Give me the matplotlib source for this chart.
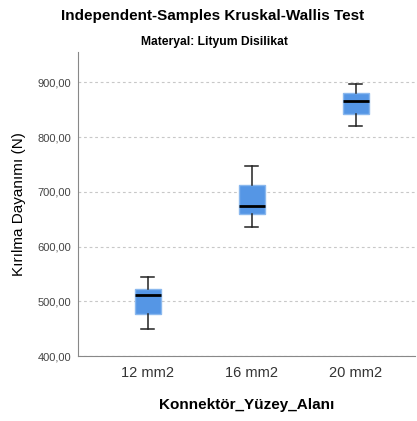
import matplotlib.pyplot as plt

plt.rcParams['font.family'] = ['Liberation Sans', 'DejaVu Sans']

groups = ['12 mm2', '16 mm2', '20 mm2']
whislo = [449, 636, 821]
q1 = [477, 660, 842]
med = [512, 675, 866]
q3 = [523, 712, 880]
whishi = [544, 748, 897]
yticks = [400, 500, 600, 700, 800, 900]

stats = []
for i in range(len(groups)):
    stats.append({'label': groups[i], 'whislo': whislo[i], 'q1': q1[i], 'med': med[i],
                  'q3': q3[i], 'whishi': whishi[i], 'fliers': []})

fig = plt.figure(figsize=(4.17, 4.21), dpi=100)
ax = fig.add_axes([0.187, 0.154, 0.808, 0.722])

ax.bxp(stats, positions=[1, 2, 3], widths=0.25, patch_artist=True, showfliers=False,
       boxprops=dict(facecolor='#5596e5', edgecolor='#8ab8ee', linewidth=1),
       medianprops=dict(color='black', linewidth=2),
       whiskerprops=dict(color='#222222', linewidth=1.1),
       capprops=dict(color='#222222', linewidth=1.1), capwidths=0.125)

ax.set_xlim(0.327, 3.567)
ax.set_ylim(400, 955)
ax.set_yticks(yticks)
ax.set_yticklabels(['%d,00' % v for v in yticks], fontsize=8, color='#444444')
ax.set_xticks([1, 2, 3])
ax.set_xticklabels(groups, fontsize=10.5, color='#333333')
ax.tick_params(axis='x', length=0, pad=7)
ax.tick_params(axis='y', length=0, pad=5)
ax.yaxis.grid(True, linestyle=(0, (2.5, 2.5)), color='#c8c8c8', linewidth=0.8)
ax.set_axisbelow(True)
for s in ['top', 'right']:
    ax.spines[s].set_visible(False)
for s in ['left', 'bottom']:
    ax.spines[s].set_color('#888888')

ax.set_ylabel('Kırılma Dayanımı (N)', fontsize=11, labelpad=8)
ax.set_xlabel('Konnektör_Yüzey_Alanı', fontsize=11, fontweight='bold', labelpad=13)

fig.text(0.51, 0.963, 'Independent-Samples Kruskal-Wallis Test', ha='center', va='center',
         fontsize=11, fontweight='bold')
fig.text(0.515, 0.9, 'Materyal: Lityum Disilikat', ha='center', va='center',
         fontsize=8.7, fontweight='bold')

fig.savefig('out.png', dpi=100)
